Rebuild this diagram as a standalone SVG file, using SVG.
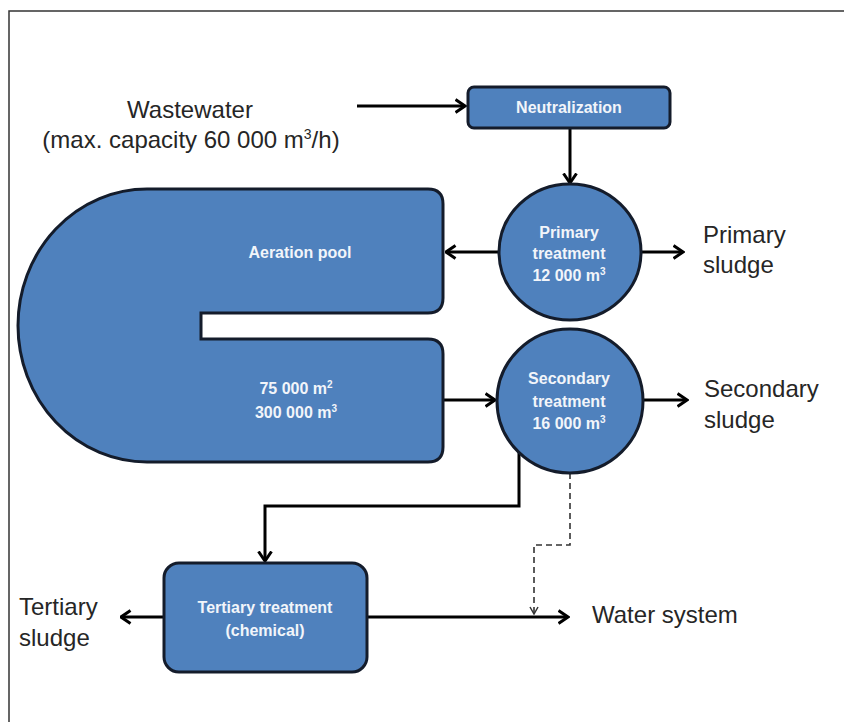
<svg xmlns="http://www.w3.org/2000/svg" width="844" height="722" viewBox="0 0 844 722">
<defs>
<style>
.node{fill:#4f81bd;stroke:#141c2b;stroke-width:3}
.nt{font-family:"Liberation Sans",Arial,sans-serif;font-weight:bold;font-size:16px;fill:#f2f5fa;text-anchor:middle}
.lbl{font-family:"Liberation Sans",Arial,sans-serif;font-size:24px;fill:#262626}
.con{fill:none;stroke:#000;stroke-width:3}
.dash{fill:none;stroke:#333;stroke-width:1.6;stroke-dasharray:6 4}
</style>
<marker id="arr" viewBox="0 0 12 16" refX="10.5" refY="8" markerWidth="12" markerHeight="16" markerUnits="userSpaceOnUse" orient="auto">
<path d="M1,1.5 L10.5,8 L1,14.5" fill="none" stroke="#000" stroke-width="3"/>
</marker>
<marker id="arrs" viewBox="0 0 10 12" refX="5" refY="11" markerWidth="10" markerHeight="12" markerUnits="userSpaceOnUse" orient="0">
<path d="M1,4 L5,11 L9,4" fill="none" stroke="#333" stroke-width="1.5"/>
</marker>
</defs>
<rect width="844" height="722" fill="#fff"/>
<path d="M9,722 L9,11 L844,11" fill="none" stroke="#333" stroke-width="1.5"/>

<g id="connectors">
<line class="con" x1="357" y1="106" x2="465" y2="106" marker-end="url(#arr)"/>
<line class="con" x1="570" y1="128" x2="570" y2="183" marker-end="url(#arr)"/>
<line class="con" x1="498" y1="252" x2="446" y2="252" marker-end="url(#arr)"/>
<line class="con" x1="641" y1="252" x2="683" y2="252" marker-end="url(#arr)"/>
<line class="con" x1="443" y1="400" x2="495" y2="400" marker-end="url(#arr)"/>
<line class="con" x1="643" y1="400" x2="687" y2="400" marker-end="url(#arr)"/>
<path class="con" d="M519,452 L519,506 L265,506 L265,561" marker-end="url(#arr)"/>
<path class="dash" d="M570,473 L570,545 L534,545 L534,614" marker-end="url(#arrs)"/>
<line class="con" x1="164" y1="617" x2="121" y2="617" marker-end="url(#arr)"/>
<line class="con" x1="367" y1="617" x2="568" y2="617" marker-end="url(#arr)"/>
</g>

<g id="wastewater">
<text class="lbl" x="190" y="118" text-anchor="middle">Wastewater</text>
<text class="lbl" x="191" y="148" text-anchor="middle">(max. capacity 60 000 m<tspan font-size="14" dy="-9">3</tspan><tspan dy="9">/h)</tspan></text>
</g>

<g id="neutralization">
<rect class="node" x="468" y="87" width="202" height="41" rx="6"/>
<text class="nt" x="569" y="113">Neutralization</text>
</g>

<g id="aeration-pool">
<path class="node" d="M147,189 L428,189 Q443,189 443,204 L443,298 Q443,313 428,313 L201,313 L201,339 L428,339 Q443,339 443,354 L443,447 Q443,462 428,462 L147,462 A129,136.5 0 0 1 147,189 Z"/>
<text class="nt" x="300" y="258">Aeration pool</text>
<text class="nt" x="296" y="394">75 000 m<tspan font-size="10" dy="-6">2</tspan></text>
<text class="nt" x="296" y="418">300 000 m<tspan font-size="10" dy="-6">3</tspan></text>
</g>

<g id="primary-treatment">
<ellipse class="node" cx="570" cy="252" rx="71" ry="68"/>
<text class="nt" x="569" y="238">Primary</text>
<text class="nt" x="569" y="259">treatment</text>
<text class="nt" x="569" y="281">12 000 m<tspan font-size="10" dy="-6">3</tspan></text>
</g>

<g id="primary-sludge">
<text class="lbl" x="703" y="243">Primary</text>
<text class="lbl" x="703" y="273">sludge</text>
</g>

<g id="secondary-treatment">
<ellipse class="node" cx="570" cy="401" rx="73" ry="72"/>
<text class="nt" x="569" y="384">Secondary</text>
<text class="nt" x="569" y="407">treatment</text>
<text class="nt" x="569" y="429">16 000 m<tspan font-size="10" dy="-6">3</tspan></text>
</g>

<g id="secondary-sludge">
<text class="lbl" x="704" y="397">Secondary</text>
<text class="lbl" x="704" y="428">sludge</text>
</g>

<g id="tertiary-treatment">
<rect class="node" x="164" y="563" width="203" height="109" rx="15"/>
<text class="nt" x="265" y="613">Tertiary treatment</text>
<text class="nt" x="265" y="636">(chemical)</text>
</g>

<g id="tertiary-sludge">
<text class="lbl" x="19" y="615">Tertiary</text>
<text class="lbl" x="19" y="646">sludge</text>
</g>

<g id="water-system">
<text class="lbl" x="592" y="623">Water system</text>
</g>
</svg>
